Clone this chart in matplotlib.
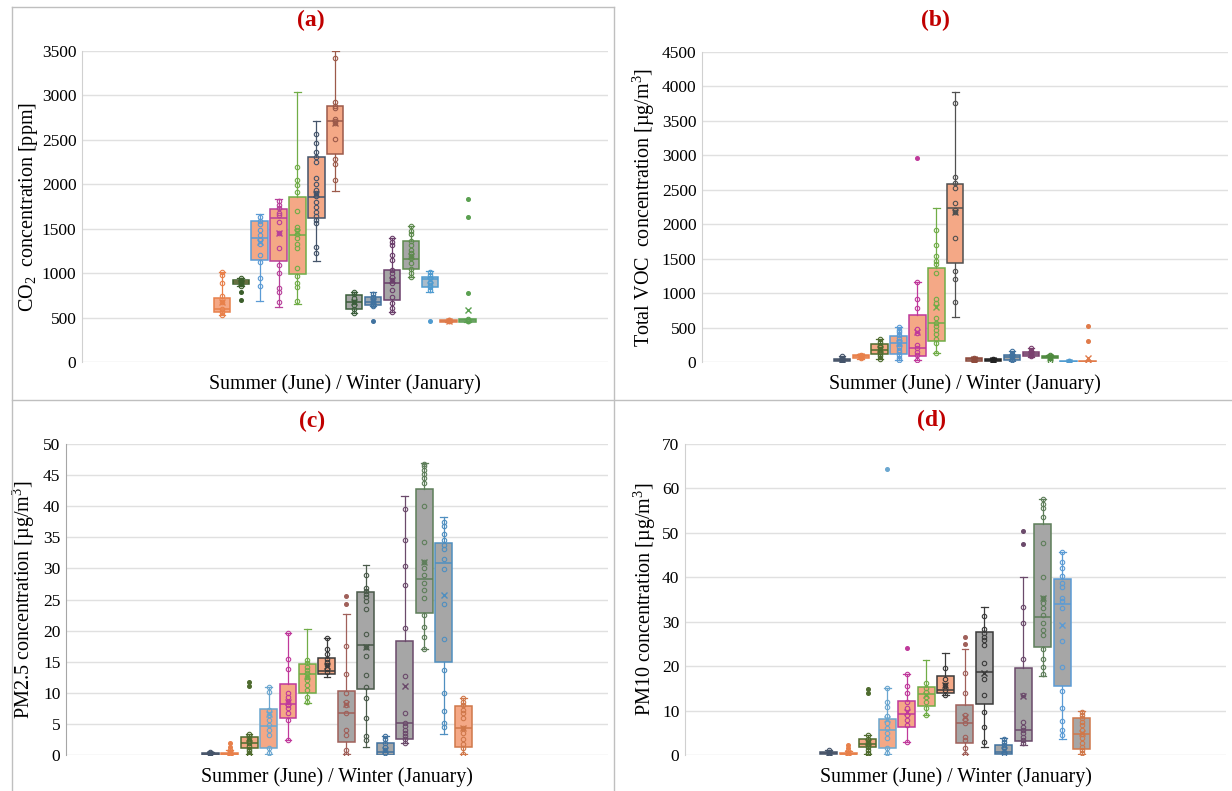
import numpy as np
import matplotlib.pyplot as plt
from matplotlib.lines import Line2D

plt.rcParams['font.family'] = ['Liberation Serif', 'DejaVu Serif']
plt.rcParams['mathtext.fontset'] = 'custom'
plt.rcParams['mathtext.rm'] = 'Liberation Serif'
plt.rcParams['mathtext.it'] = 'Liberation Serif:italic'

SUMMER = '#F4A886'
WINTER = '#A6A6A6'

# ---- (a) CO2 [ppm] ----
a_q1 = [559, 874, 1144, 1133, 987, 1617, 2337, 593, 641, 698, 1043, 841, 455, 455]
a_med = [593, 897, 1392, 1617, 1429, 1857, 2716, 679, 679, 886, 1156, 938, 465, 468]
a_q3 = [724, 923, 1584, 1718, 1853, 2303, 2881, 750, 735, 1035, 1362, 953, 475, 480]
a_lo = [529, 860, 687, 622, 653, 1137, 1924, 547, 626, 566, 960, 784, 455, 455]
a_hi = [1016, 950, 1666, 1831, 3042, 2712, 3503, 791, 791, 1392, 1534, 1024, 475, 480]
a_mean = [672, 890, 1347, 1448, 1466, 1891, 2686, 679, 690, 923, 1193, 925, 465, 585]
a_fliers = [[], [790, 700], [], [], [], [], [], [], [465], [], [], [465], [], [1838, 1635, 773]]
a_pts = [
    [1016, 975, 890, 740, 680, 593, 560, 529],
    [949, 923, 910, 897, 885, 874, 860],
    [1630, 1590, 1550, 1490, 1430, 1370, 1330, 1200, 1120, 945, 860],
    [1810, 1770, 1730, 1680, 1650, 1570, 1448, 1280, 1090, 1000, 830, 790, 680],
    [2190, 2048, 1992, 1913, 1700, 1523, 1480, 1440, 1390, 1330, 1280, 1061, 968, 892, 847, 687],
    [2562, 2460, 2367, 2303, 2250, 2074, 2003, 1940, 1900, 1870, 1797, 1748, 1690, 1640, 1598, 1560, 1297, 1223],
    [3425, 2923, 2880, 2854, 2740, 2710, 2686, 2510, 2284, 2225, 2048],
    [791, 760, 720, 680, 640, 593, 547],
    [770, 735, 700, 670, 641, 626],
    [1392, 1355, 1317, 1205, 1148, 1035, 998, 960, 923, 886, 810, 735, 660, 604, 566],
    [1530, 1475, 1437, 1362, 1317, 1261, 1224, 1193, 1167, 1111, 1043, 998, 960],
    [1016, 980, 943, 905, 868, 841, 815],
    [475, 468, 462, 458],
    [480, 470, 462, 458],
]
a_colors = ['#E8804A', '#3B5E2B', '#5B9BD5', '#B8409A', '#70AD47', '#44546A', '#9C5A4A',
            '#3B5E3B', '#41729F', '#6B3F6B', '#5E8A4E', '#4F9BD0', '#E07B4A', '#5AA050']
a_fills = [SUMMER] * 7 + [WINTER, '#9EA9B3', WINTER, WINTER, '#A9BCCB', WINTER, WINTER]

# ---- (b) Total VOC [ug/m3] ----
b_q1 = [15, 63, 112, 112, 87, 305, 1442, 19, 20, 29, 87, 63, 0, 0]
b_med = [29, 80, 174, 271, 198, 571, 2240, 39, 30, 68, 116, 75, 5, 3]
b_q3 = [48, 97, 257, 382, 682, 1360, 2584, 58, 40, 102, 140, 87, 12, 8]
b_lo = [0, 48, 43, 29, 29, 135, 649, 10, 0, 19, 73, 0, 0, 0]
b_hi = [87, 110, 329, 513, 1157, 2231, 3915, 70, 55, 165, 198, 102, 20, 15]
b_mean = [30, 80, 185, 271, 440, 803, 2173, 39, 30, 68, 116, 75, 5, 58]
b_fliers = [[], [], [], [], [2957], [], [], [], [], [], [], [], [], [522, 310]]
b_pts = [
    [80, 50, 35, 25, 15, 5],
    [105, 90, 80, 70, 60],
    [329, 290, 250, 215, 185, 150, 120, 80, 43],
    [513, 470, 430, 390, 345, 300, 260, 220, 180, 140, 100, 60, 29],
    [1157, 920, 780, 480, 420, 250, 200, 150, 100, 29],
    [1916, 1694, 1539, 1460, 1420, 1288, 910, 850, 640, 571, 520, 470, 400, 330, 280, 135],
    [3755, 2681, 2603, 2530, 2303, 2210, 2173, 1804, 1321, 1200, 875],
    [60, 45, 35, 25, 15],
    [45, 35, 25, 10, 0],
    [165, 120, 90, 70, 50, 30],
    [198, 160, 130, 115, 100, 80],
    [100, 85, 75, 65, 20],
    [15, 8, 3, 0],
    [12, 6, 2, 0],
]
b_colors = ['#44546A', '#E8804A', '#4E6B2E', '#5B9BD5', '#C0399B', '#70AD47', '#505050',
            '#8E4A3C', '#222222', '#41729F', '#7A3F6E', '#4E8A3E', '#4F9BD0', '#E07B4A']
b_fills = [SUMMER] * 7 + [WINTER] * 7

# ---- (c) PM2.5 [ug/m3] ----
c_q1 = [0.0, 0.05, 1.18, 1.07, 5.9, 10.02, 13.02, 2.14, 10.56, 0.0, 2.5, 22.88, 14.9, 1.23]
c_med = [0.16, 0.16, 1.88, 4.66, 8.15, 12.97, 13.56, 6.7, 17.68, 0.43, 5.1, 28.3, 30.8, 4.29]
c_q3 = [0.37, 0.27, 2.95, 7.34, 11.36, 14.58, 15.65, 10.29, 26.15, 1.88, 18.4, 42.77, 34.08, 7.88]
c_lo = [0.0, 0.0, 0.1, 0.1, 2.41, 8.41, 12.6, 0.1, 1.23, 0.0, 1.88, 17.04, 3.38, 0.1]
c_hi = [0.55, 0.8, 3.3, 10.9, 19.56, 20.2, 18.86, 22.6, 30.5, 3.1, 41.6, 46.9, 38.2, 9.1]
c_mean = [0.2, 0.35, 2.7, 6.6, 8.57, 12.7, 14.3, 8.2, 17.4, 0.8, 11.15, 31.0, 25.8, 4.29]
c_fliers = [[], [1.9, 1.3], [11.8, 11.1], [], [], [], [], [25.6, 24.2], [], [], [], [], [], []]
c_pts = [
    [0.5, 0.35, 0.2, 0.1],
    [0.8, 0.5, 0.3, 0.15, 0.05],
    [3.3, 2.7, 2.3, 1.9, 1.5, 1.0, 0.6, 0.1],
    [10.9, 10.2, 7.3, 6.4, 5.6, 4.8, 4.0, 3.2, 1.1, 0.3],
    [19.56, 15.4, 13.9, 10.0, 9.4, 8.6, 8.0, 7.5, 6.7, 5.6, 2.41],
    [15.3, 14.8, 14.2, 13.7, 13.2, 12.6, 12.1, 11.3, 10.5, 9.4, 8.6],
    [18.86, 17.1, 16.3, 15.5, 15.0, 14.5, 13.9, 13.4],
    [17.5, 13.1, 10.0, 8.6, 8.0, 6.7, 4.0, 3.2, 0.8, 0.1],
    [29.0, 26.8, 26.4, 25.9, 25.4, 24.8, 23.5, 19.5, 17.4, 15.9, 12.9, 11.0, 9.1, 5.9, 3.1, 2.4],
    [3.1, 2.5, 1.9, 1.3, 0.8, 0.3],
    [39.55, 34.6, 30.4, 27.4, 20.4, 12.7, 6.7, 5.1, 4.6, 4.0, 3.5, 3.0, 2.5, 1.9],
    [46.8, 46.4, 45.8, 45.2, 44.5, 43.8, 40.0, 34.3, 31.0, 30.1, 29.0, 27.6, 26.5, 25.3, 22.5, 20.6, 18.9, 17.0],
    [37.4, 36.8, 35.6, 34.6, 33.8, 33.1, 31.5, 29.9, 24.3, 18.65, 13.67, 9.9, 7.0, 5.2, 4.5],
    [9.1, 8.6, 8.0, 7.3, 6.7, 5.9, 4.3, 3.5, 2.5, 1.7, 1.1, 0.1],
]
c_colors = ['#44546A', '#E8804A', '#4E6B2E', '#6BA7D0', '#C0399B', '#70AD47', '#3A3A3A',
            '#A0605A', '#4A5A4A', '#41729F', '#6B4A6B', '#5E7E5A', '#4F8FC0', '#D0784A']
c_fills = [SUMMER] * 7 + [WINTER] * 6 + [SUMMER]

# ---- (d) PM10 [ug/m3] ----
d_q1 = [0.15, 0.15, 1.7, 1.5, 6.4, 11.0, 13.9, 2.6, 11.5, 0.15, 3.2, 24.2, 15.6, 1.28]
d_med = [0.37, 0.3, 2.4, 5.6, 9.2, 13.66, 14.6, 7.28, 18.76, 0.75, 5.6, 31.0, 34.0, 4.65]
d_q3 = [0.6, 0.5, 3.5, 8.1, 12.2, 15.2, 17.8, 11.25, 27.6, 2.25, 19.5, 52.1, 39.6, 8.4]
d_lo = [0.0, 0.0, 0.15, 0.15, 3.0, 9.0, 13.5, 0.2, 1.7, 0.0, 2.25, 17.8, 3.5, 0.2]
d_hi = [1.1, 0.8, 4.5, 15.0, 18.2, 21.4, 22.9, 23.8, 33.4, 3.75, 40.1, 57.6, 45.6, 10.0]
d_mean = [0.4, 0.5, 3.0, 8.1, 9.6, 13.5, 15.76, 8.6, 18.4, 1.1, 13.3, 35.4, 29.3, 4.9]
d_fliers = [[], [2.25, 1.5], [14.9, 13.9], [64.3], [24.0], [], [], [26.5, 24.9], [], [], [50.4, 47.6], [], [], []]
d_pts = [
    [1.1, 0.7, 0.4, 0.1],
    [0.8, 0.4, 0.2],
    [4.5, 3.6, 3.0, 2.4, 1.9, 1.2, 0.5, 0.15],
    [15.0, 12.0, 10.9, 8.8, 7.2, 6.0, 4.9, 3.8, 1.5, 0.4],
    [18.2, 15.5, 13.9, 12.0, 10.5, 9.0, 7.9, 6.8, 3.0],
    [16.1, 15.0, 14.2, 13.1, 12.0, 10.5, 9.0],
    [19.5, 17.1, 15.8, 14.6, 13.5],
    [18.4, 13.9, 9.0, 8.2, 7.1, 4.1, 3.4, 1.5, 0.2],
    [31.3, 28.3, 27.4, 26.6, 25.9, 24.8, 20.7, 17.0, 13.6, 9.6, 6.4, 3.0],
    [3.6, 2.9, 2.25, 1.5, 0.75, 0.15],
    [33.2, 29.8, 21.5, 13.5, 7.5, 6.4, 5.6, 4.9, 4.1, 3.4, 2.6],
    [57.6, 56.6, 55.5, 53.6, 47.8, 40.0, 35.4, 34.1, 33.0, 31.5, 29.6, 28.1, 27.0, 23.9, 21.6, 19.7, 18.2],
    [45.6, 43.5, 42.0, 40.2, 38.7, 37.9, 35.3, 34.6, 33.1, 25.7, 19.7, 14.3, 10.6, 7.6, 5.7, 4.6],
    [9.7, 9.0, 8.3, 7.5, 6.8, 5.6, 4.65, 3.75, 2.6, 1.9, 1.1, 0.4],
]
d_colors = ['#44546A', '#E8804A', '#4E6B2E', '#6BA7D0', '#C0399B', '#70AD47', '#3A3A3A',
            '#A0605A', '#3A3A3A', '#41729F', '#6B4A6B', '#5E7E5A', '#5B9BD5', '#D0784A']
d_fills = [SUMMER] * 7 + [WINTER] * 7

XLABEL = 'Summer (June) / Winter (January)'
W, H = 1232, 791


def rect(l, r, t, b):
    return [l / W, 1 - b / H, (r - l) / W, (b - t) / H]


def draw_panel(ax, q1, med, q3, lo, hi, mean, fliers, pts, colors, fills, ymax, ystep, ylabel, ylab_x):
    for i in range(len(q1)):
        col = colors[i]
        st = [dict(q1=q1[i], med=med[i], q3=q3[i], whislo=lo[i], whishi=hi[i],
                   mean=mean[i], fliers=fliers[i])]
        ax.bxp(st, positions=[i], widths=0.87, capwidths=0.35, patch_artist=True,
               showmeans=True,
               boxprops=dict(facecolor=fills[i], edgecolor=col, linewidth=1.1),
               medianprops=dict(color=col, linewidth=1.1),
               whiskerprops=dict(color=col, linewidth=0.9),
               capprops=dict(color=col, linewidth=0.9),
               meanprops=dict(marker='x', markeredgecolor=col, markersize=5, markeredgewidth=1),
               flierprops=dict(marker='o', markerfacecolor=col, markeredgecolor=col,
                               markersize=2.6))
        ax.plot(np.full(len(pts[i]), i), pts[i], 'o', mfc='none', mec=col,
                ms=3.2, mew=0.8, zorder=5)
    ax.set_xlim(-7.4, 20.43)
    ax.set_ylim(0, ymax)
    ax.set_yticks(np.arange(0, ymax + ystep / 2, ystep))
    ax.set_xticks([])
    ax.tick_params(axis='y', length=0, pad=4, labelsize=12.5)
    ax.grid(axis='y', color='#E0E0E0', linewidth=1)
    ax.set_axisbelow(True)
    for s in ['top', 'right', 'bottom']:
        ax.spines[s].set_visible(False)
    ax.spines['left'].set_color('#D0D0D0')
    ax.set_ylabel(ylabel, fontsize=14.5)
    ax.yaxis.set_label_coords(ylab_x, 0.5)
    ax.set_xlabel(XLABEL, fontsize=14.3, va='top')
    ax.xaxis.set_label_coords(0.5, -0.04)


fig = plt.figure(figsize=(W / 100, H / 100), dpi=100)

ax_a = fig.add_axes(rect(82, 608, 51, 362))
draw_panel(ax_a, a_q1, a_med, a_q3, a_lo, a_hi, a_mean, a_fliers, a_pts, a_colors, a_fills,
           3500, 500, 'CO$_2$  concentration [ppm]', -0.08)

ax_b = fig.add_axes(rect(702, 1228, 52, 362))
draw_panel(ax_b, b_q1, b_med, b_q3, b_lo, b_hi, b_mean, b_fliers, b_pts, b_colors, b_fills,
           4500, 500, 'Total VOC  concentration [µg/m$^3$]', -0.086)

ax_c = fig.add_axes(rect(66, 608, 444, 755))
draw_panel(ax_c, c_q1, c_med, c_q3, c_lo, c_hi, c_mean, c_fliers, c_pts, c_colors, c_fills,
           50, 5, 'PM2.5 concentration [µg/m$^3$]', -0.054)
ax_c.spines['left'].set_color('#A6A6A6')

ax_d = fig.add_axes(rect(685, 1226, 444, 755))
draw_panel(ax_d, d_q1, d_med, d_q3, d_lo, d_hi, d_mean, d_fliers, d_pts, d_colors, d_fills,
           70, 10, 'PM10 concentration [µg/m$^3$]', -0.05)

# panel titles
for lab, x, y in [('(a)', 311, 20), ('(b)', 935, 20), ('(c)', 312, 421), ('(d)', 932, 420)]:
    fig.text(x / W, 1 - y / H, lab, ha='center', va='center', fontsize=17,
             fontweight='bold', color='#C00000')

# chart borders / dividers
def fline(x0, y0, x1, y1):
    fig.add_artist(Line2D([x0 / W, x1 / W], [1 - y0 / H, 1 - y1 / H],
                          transform=fig.transFigure, color='#BFBFBF', linewidth=1))

fline(12, 7, 12, 791)
fline(614, 7, 614, 791)
fline(12, 400, 1232, 400)
fline(12, 7, 614, 7)

fig.savefig('out.png', dpi=100)
